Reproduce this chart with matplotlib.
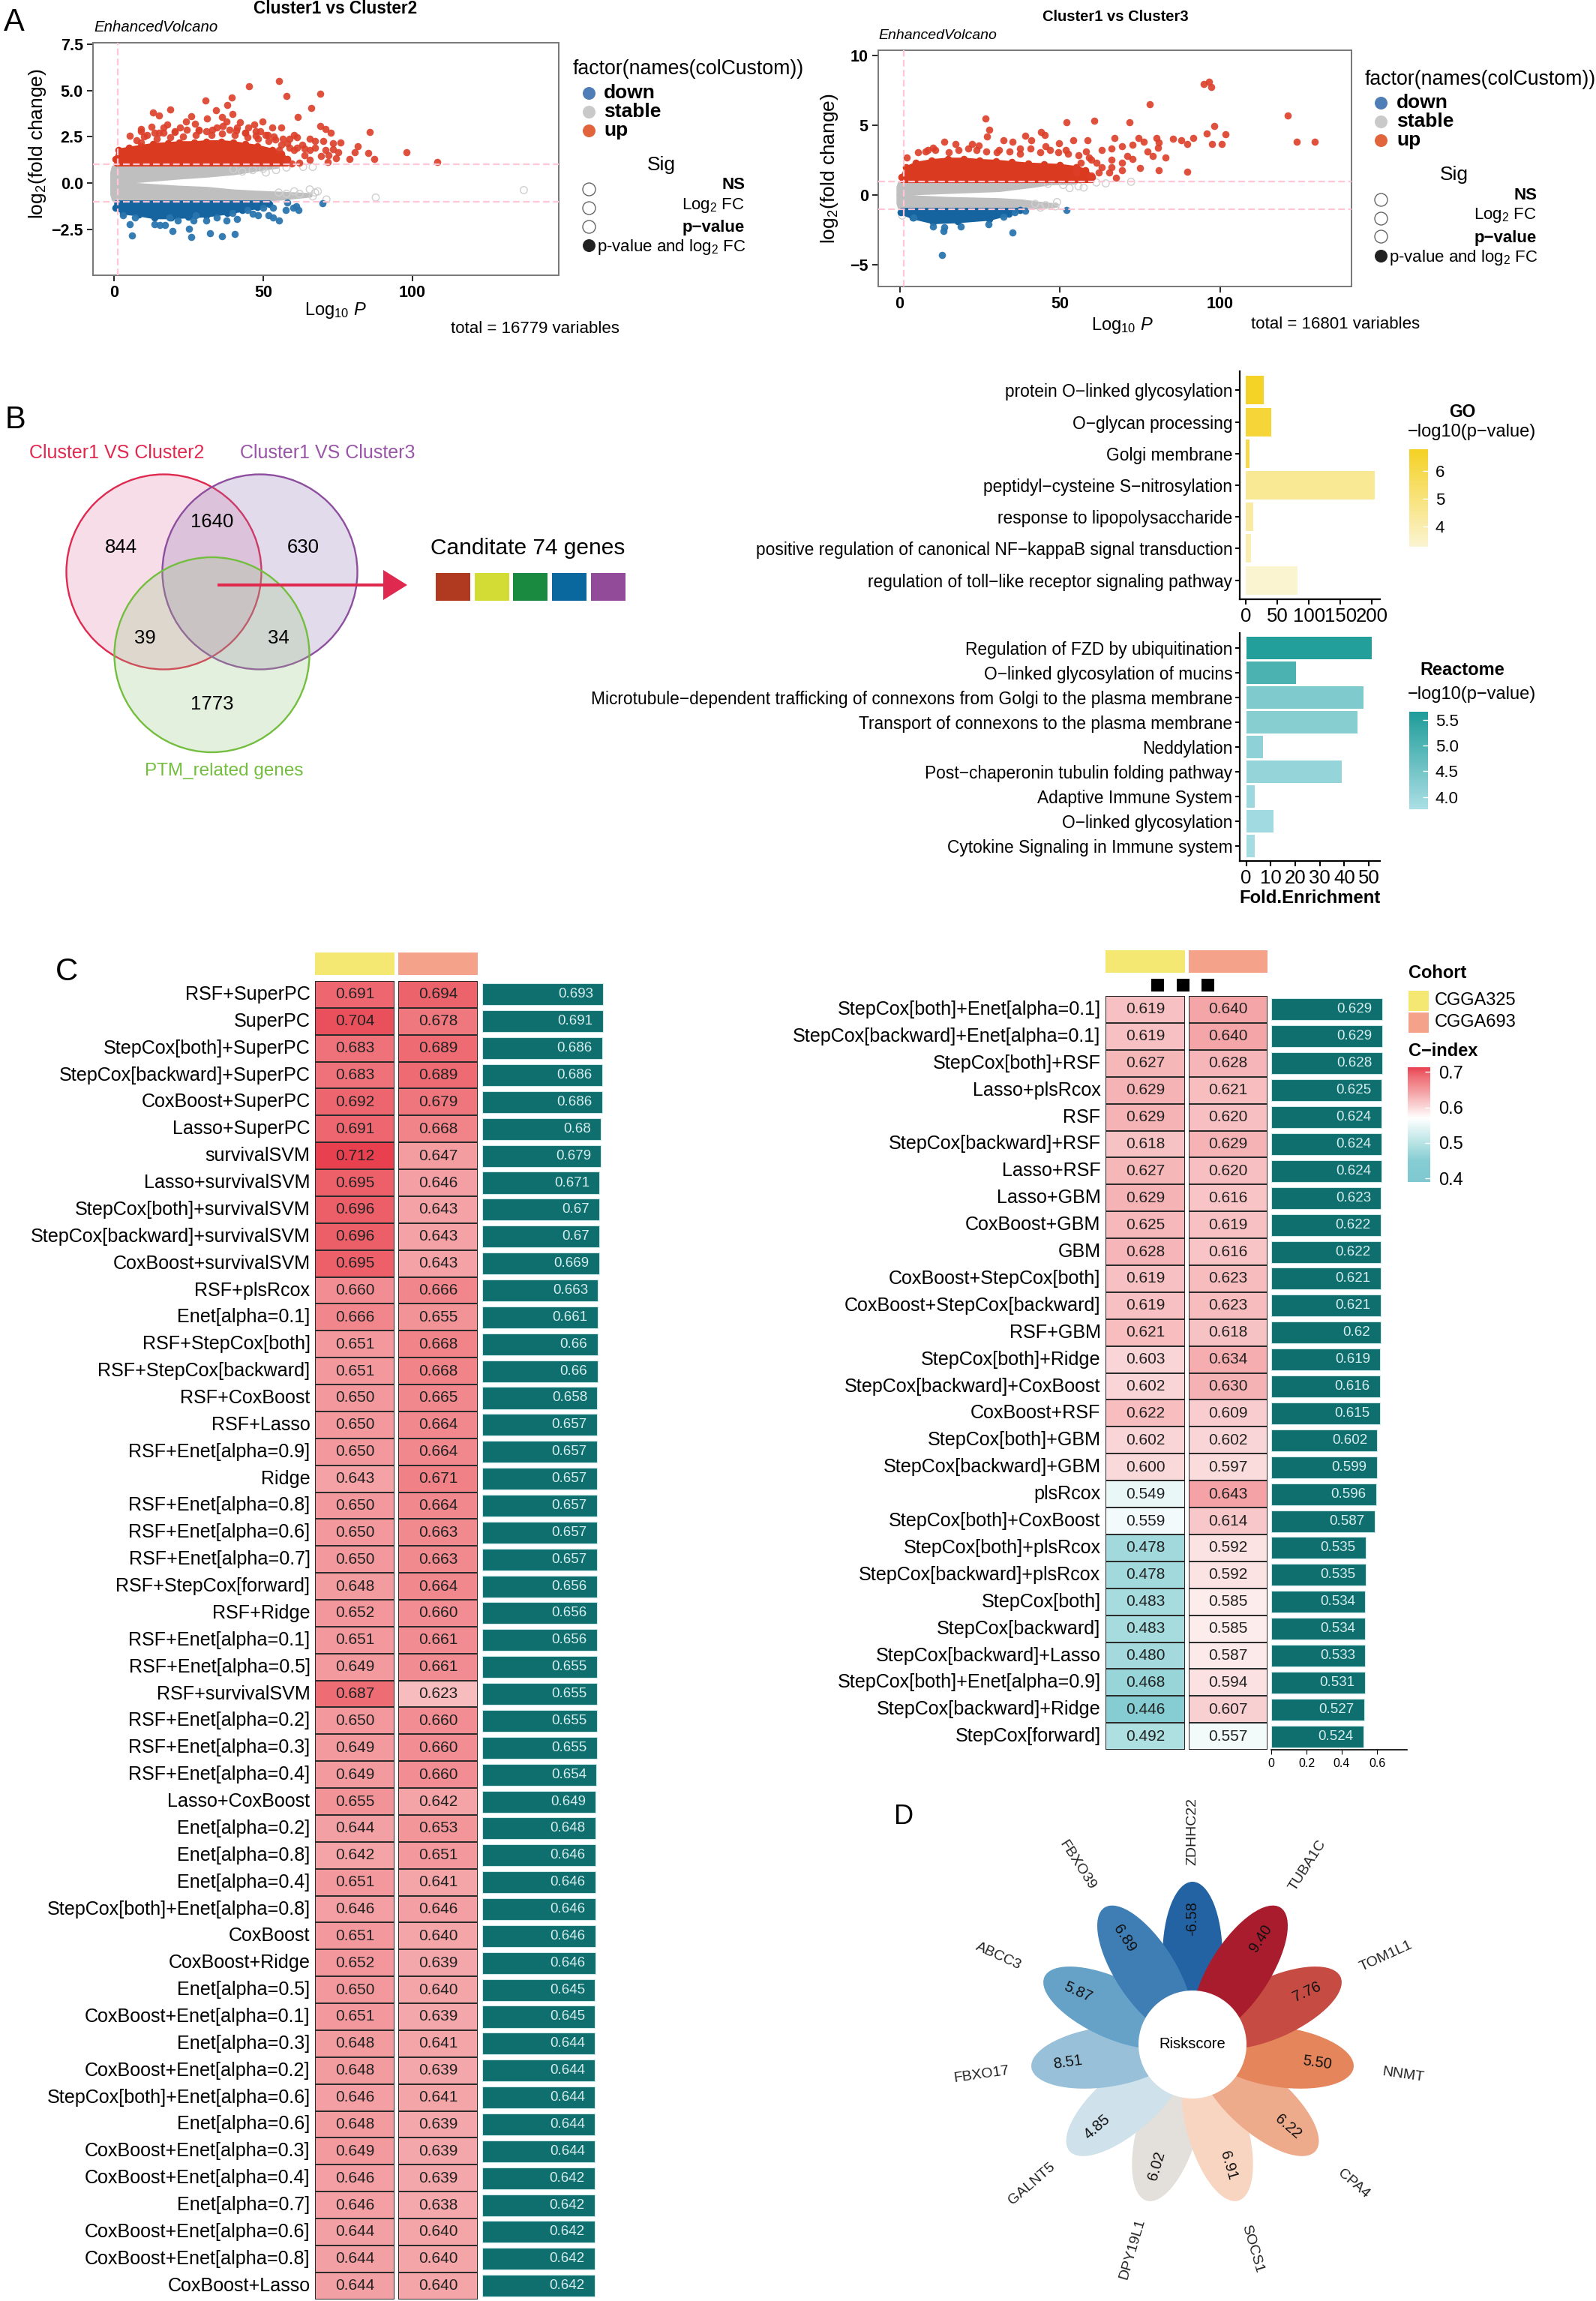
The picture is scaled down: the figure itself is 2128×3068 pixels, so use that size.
import numpy as np
import matplotlib
matplotlib.use('Agg')
import matplotlib.pyplot as plt
from matplotlib.patches import Circle, Ellipse, Rectangle
from matplotlib.colors import LinearSegmentedColormap, Normalize
from matplotlib.cm import ScalarMappable

plt.rcParams['font.family'] = 'Liberation Sans'
plt.rcParams['mathtext.fontset'] = 'custom'
plt.rcParams['mathtext.rm'] = 'Liberation Sans'
plt.rcParams['mathtext.it'] = 'Liberation Sans:italic'
plt.rcParams['mathtext.bf'] = 'Liberation Sans:bold'

W, H = 2128, 3068

# --- panel A, Cluster1 vs Cluster2 ---
a1_up_x = [55.4, 45.3, 57.8, 69.1, 30.6, 39.4, 38.0, 18.8, 13.0, 15.1, 34.2, 39.8, 66.1, 61.5, 26.0, 31.3, 36.1, 24.1, 27.1, 37.8,
           42.2, 49.7, 46.9, 56.1, 69.1, 70.8, 72.6, 85.8, 9.2, 12.7, 17.9, 16.7, 22.2, 36.5, 45.1, 53.1, 49.1, 5.4, 9.2, 60.4,
           61.3, 65.6, 67.4, 70.0, 73.4, 76.0, 81.8, 73.3, 70.8, 67.4, 63.0, 65.6, 60.4, 97.9, 85.2, 80.7, 75.2, 71.9, 69.4, 78.8,
           87.2, 108.3, 74.3, 71.7, 65.6, 62.2, 59.5, 57.8, 63.9, 41.0, 44.0, 47.5, 51.5, 54.0, 58.0, 28.5, 33.0, 20.5, 15.0, 11.0,
           7.5, 10.1, 13.5, 16.7, 20.5, 24.3, 28.3, 30.9, 34.4, 38.7, 41.3, 43.9, 47.4, 50.9, 53.5, 56.6, 58.7, 9.2, 14.4, 18.8,
           23.1, 27.4, 32.6, 36.1, 40.5, 44.8, 48.3, 51.7, 56.1, 58.7, 61.3, 63.9, 55.2]
a1_up_y = [5.53, 5.24, 4.71, 4.82, 4.45, 4.63, 4.21, 3.98, 3.83, 3.63, 3.95, 3.75, 4.06, 3.56, 3.59, 3.50, 3.57, 3.33, 3.21, 3.34,
           3.27, 3.32, 3.18, 3.00, 3.07, 2.91, 2.71, 2.76, 2.94, 3.04, 3.18, 3.00, 3.00, 3.07, 3.00, 3.00, 2.80, 2.56, 2.80, 2.60,
           2.46, 2.38, 2.29, 2.26, 2.17, 2.19, 1.98, 1.81, 1.79, 1.92, 2.06, 1.79, 1.79, 1.68, 1.61, 1.65, 1.65, 1.52, 1.45, 1.30,
           1.29, 1.15, 1.34, 1.14, 1.24, 1.11, 1.04, 1.24, 1.52, 2.85, 2.70, 2.55, 2.60, 2.35, 2.15, 2.85, 2.90, 2.75, 2.70, 2.60,
           2.33, 2.53, 2.73, 2.73, 2.80, 2.87, 2.87, 2.80, 3.00, 2.87, 3.00, 2.73, 2.80, 2.60, 2.53, 2.40, 2.40, 2.19, 2.40, 2.46,
           2.53, 2.60, 2.60, 2.67, 2.60, 2.46, 2.40, 2.26, 2.06, 1.92, 1.92, 1.85, 1.79]
a1_up_env_x = [0.5, 1.5, 5, 9, 13, 18, 22, 27, 31, 36, 40, 44, 48, 53, 56, 58]
a1_up_env_top = [1.3, 1.8, 1.9, 2.0, 2.1, 2.15, 2.2, 2.2, 2.25, 2.25, 2.2, 2.1, 2.0, 1.8, 1.6, 1.3]
a1_down_x = [5.4, 6.1, 13.5, 15.3, 17.0, 19.6, 25.2, 26.0, 32.3, 36.3, 40.5, 55.2, 53.4, 51.7, 61.2, 61.8, 60.0, 69.8, 57.5, 58.0,
             48.3, 46.5, 41.3, 37.8, 34.4, 30.9, 27.4, 26.6, 21.4, 18.7, 7.0, 3.1, 53.4, 50.0, 44.8, 39.6]
a1_down_y = [-2.24, -2.82, -2.21, -2.28, -2.28, -2.59, -2.48, -2.92, -2.72, -2.88, -2.75, -2.01, -1.87, -1.73, -1.27, -1.44, -1.33, -1.10, -1.47, -1.06,
             -1.73, -1.66, -1.94, -2.01, -1.87, -2.01, -1.73, -2.01, -2.01, -1.87, -1.85, -1.73, -1.33, -1.33, -1.46, -1.60]
a1_down_env_x = [0.5, 3, 8.3, 13.5, 19, 25, 31, 38, 43, 48, 52]
a1_down_env_bot = [-1.33, -1.6, -1.7, -1.85, -1.85, -1.8, -1.75, -1.6, -1.45, -1.3, -1.15]
a1_ns_x = [137.3, 87.7, 71.2, 67.4, 65.6, 68.3, 66.6, 60.4, 62.2, 57.8, 55.2, 46.5, 50.0, 54.3, 57.8, 63.4, 66.6, 50.9, 43.0, 40.0]
a1_ns_y = [-0.38, -0.78, -0.88, -0.51, -0.34, -0.45, -0.72, -0.45, -0.58, -0.58, -0.51, 0.70, 0.77, 0.70, 0.84, 0.87, 0.87, 0.57, 0.62, 0.74]
a1_st_x = [-1, -0.5, 1, 8.3, 22, 31, 40, 48, 55]
a1_st_top = [0.6, 0.9, 1, 1, 1, 1, 1, 1, 0.95]
a1_st_mid = [0, 0, 0, 0.09, 0.27, 0.37, 0.50, 0.70, 0.86]
a1_sl_x = [-1, -0.5, 1, 8.3, 22, 31, 40, 48, 57, 66]
a1_sl_mid = [0, 0, 0, -0.04, -0.18, -0.24, -0.38, -0.45, -0.51, -0.58]
a1_sl_bot = [-0.6, -0.9, -1, -1, -1, -1, -1, -0.97, -0.85, -0.70]

# --- panel A, Cluster1 vs Cluster3 ---
a2_up_x = [94.9, 96.5, 97.3, 78.0, 121.0, 26.8, 52.0, 60.6, 71.6, 98.1, 27.9, 44.0, 45.3, 95.9, 101.6, 27.3, 39.1, 123.9, 129.5, 97.4,
           100.5, 89.8, 91.7, 87.9, 85.2, 80.1, 74.5, 67.1, 58.5, 54.2, 49.6, 41.1, 35.1, 32.4, 14.0, 17.5, 22.6, 24.7, 8.0, 10.4,
           2.2, 80.9, 76.2, 72.6, 69.4, 66.2, 77.4, 80.5, 82.9, 78.9, 71.0, 63.0, 58.2, 51.8, 45.5, 37.5, 31.1, 59.8, 66.2, 69.4,
           72.6, 75.0, 80.9, 89.8, 69.4, 66.2, 65.4, 67.5, 59.8, 63.0, 55.0,
           5.6, 8.8, 11.2, 15.2, 18.3, 21.5, 23.9, 27.1, 30.3, 34.3, 37.5, 40.7, 43.9, 47.0, 49.4, 52.6, 55.8, 59.0, 61.4, 56.6, 55.0, 62.2]
a2_up_y = [7.97, 8.15, 7.76, 6.54, 5.70, 5.48, 5.23, 5.34, 5.23, 4.93, 4.68, 4.53, 4.30, 4.41, 4.34, 4.18, 4.27, 3.84, 3.84, 3.66,
           3.66, 3.67, 4.12, 3.94, 4.03, 4.07, 4.10, 4.07, 3.91, 3.94, 3.73, 3.94, 3.80, 3.91, 3.82, 3.67, 3.67, 3.58, 3.14, 3.41,
           2.72, 3.76, 3.82, 3.62, 3.49, 3.32, 3.14, 3.41, 2.72, 2.78, 2.78, 3.23, 3.14, 3.23, 3.49, 3.32, 3.23, 2.51, 2.51, 2.33,
           2.60, 1.94, 1.76, 1.65, 1.79, 2.01, 1.61, 1.22, 1.43, 1.97, 1.61,
           3.05, 3.23, 3.23, 3.05, 3.23, 3.32, 3.23, 3.14, 3.05, 3.14, 2.96, 3.32, 3.05, 3.23, 3.05, 2.96, 2.87, 2.69, 2.33, 2.33, 1.97, 1.61]
a2_up_env_x = [0.5, 2, 5, 10, 15, 20, 25, 30, 35, 40, 45, 50, 55, 58, 60]
a2_up_env_top = [1.3, 2.0, 2.3, 2.5, 2.6, 2.6, 2.5, 2.45, 2.35, 2.25, 2.2, 2.15, 2.0, 1.8, 1.3]
a2_down_x = [13.1, 35.1, 13.6, 14.0, 10.4, 19.1, 27.6, 32.4, 35.9, 39.1, 52.0, 4.3]
a2_down_y = [-4.30, -2.71, -2.60, -2.33, -2.24, -2.24, -2.11, -1.58, -1.25, -1.13, -1.06, -1.61]
a2_down_env_x = [0.3, 4, 10.4, 18, 28, 34, 37.5]
a2_down_env_bot = [-1.25, -1.6, -1.95, -1.88, -1.7, -1.34, -1.08]
a2_ns_x = [72.2, 64.3, 61.4, 57.4, 55.8, 53.0, 51.0, 46.3, 49.1, 48.6, 45.5, 42.3, 43.9, 0.8]
a2_ns_y = [0.95, 0.84, 0.90, 0.54, 0.63, 0.50, 0.72, 0.81, -0.50, -0.81, -0.72, -0.63, -0.90, -1.47]
a2_st_x = [-0.8, -0.4, 1, 5.6, 15, 31, 42, 47, 55]
a2_st_top = [0.6, 0.9, 1, 1, 1, 1, 1, 0.97, 0.85]
a2_st_mid = [0, 0, 0, 0.1, 0.18, 0.32, 0.63, 0.81, 0.85]
a2_sl_x = [-0.8, -0.4, 1, 5.6, 15, 31, 38, 44, 49]
a2_sl_mid = [0, 0, 0, -0.08, -0.18, -0.27, -0.36, -0.54, -0.65]
a2_sl_bot = [-0.6, -0.9, -1, -1, -1, -1, -0.97, -0.9, -0.8]

# --- panel B ---
venn_counts = ['844', '1640', '630', '39', '34', '1773']
candidate_colors = ['#B03A20', '#D2DC34', '#198A40', '#0B689E', '#914B98']

go_terms = ['protein O\u2212linked glycosylation', 'O\u2212glycan processing', 'Golgi membrane',
            'peptidyl\u2212cysteine S\u2212nitrosylation', 'response to lipopolysaccharide',
            'positive regulation of canonical NF\u2212kappaB signal transduction',
            'regulation of toll\u2212like receptor signaling pathway']
go_enrich = [27.7, 40, 5, 205, 11, 8, 82]
go_logp = [6.7, 6.35, 5.95, 4.5, 4.2, 3.9, 3.3]

re_terms = ['Regulation of FZD by ubiquitination', 'O\u2212linked glycosylation of mucins',
            'Microtubule\u2212dependent trafficking of connexons from Golgi to the plasma membrane',
            'Transport of connexons to the plasma membrane', 'Neddylation',
            'Post\u2212chaperonin tubulin folding pathway', 'Adaptive Immune System',
            'O\u2212linked glycosylation', 'Cytokine Signaling in Immune system']
re_enrich = [51.3, 20.3, 48, 45.4, 7, 39, 3.6, 11.3, 3.4]
re_logp = [5.6, 5.05, 4.35, 4.25, 4.15, 4.05, 3.95, 3.9, 3.85]

# --- panel C ---
left_models = ['RSF+SuperPC', 'SuperPC', 'StepCox[both]+SuperPC', 'StepCox[backward]+SuperPC', 'CoxBoost+SuperPC', 'Lasso+SuperPC',
               'survivalSVM', 'Lasso+survivalSVM', 'StepCox[both]+survivalSVM', 'StepCox[backward]+survivalSVM', 'CoxBoost+survivalSVM',
               'RSF+plsRcox', 'Enet[alpha=0.1]', 'RSF+StepCox[both]', 'RSF+StepCox[backward]', 'RSF+CoxBoost', 'RSF+Lasso',
               'RSF+Enet[alpha=0.9]', 'Ridge', 'RSF+Enet[alpha=0.8]', 'RSF+Enet[alpha=0.6]', 'RSF+Enet[alpha=0.7]', 'RSF+StepCox[forward]',
               'RSF+Ridge', 'RSF+Enet[alpha=0.1]', 'RSF+Enet[alpha=0.5]', 'RSF+survivalSVM', 'RSF+Enet[alpha=0.2]', 'RSF+Enet[alpha=0.3]',
               'RSF+Enet[alpha=0.4]', 'Lasso+CoxBoost', 'Enet[alpha=0.2]', 'Enet[alpha=0.8]', 'Enet[alpha=0.4]',
               'StepCox[both]+Enet[alpha=0.8]', 'CoxBoost', 'CoxBoost+Ridge', 'Enet[alpha=0.5]', 'CoxBoost+Enet[alpha=0.1]',
               'Enet[alpha=0.3]', 'CoxBoost+Enet[alpha=0.2]', 'StepCox[both]+Enet[alpha=0.6]', 'Enet[alpha=0.6]',
               'CoxBoost+Enet[alpha=0.3]', 'CoxBoost+Enet[alpha=0.4]', 'Enet[alpha=0.7]', 'CoxBoost+Enet[alpha=0.6]',
               'CoxBoost+Enet[alpha=0.8]', 'CoxBoost+Lasso']
left_cgga325 = [0.691, 0.704, 0.683, 0.683, 0.692, 0.691, 0.712, 0.695, 0.696, 0.696, 0.695, 0.660, 0.666, 0.651, 0.651, 0.650, 0.650,
                0.650, 0.643, 0.650, 0.650, 0.650, 0.648, 0.652, 0.651, 0.649, 0.687, 0.650, 0.649, 0.649, 0.655, 0.644, 0.642, 0.651,
                0.646, 0.651, 0.652, 0.650, 0.651, 0.648, 0.648, 0.646, 0.648, 0.649, 0.646, 0.646, 0.644, 0.644, 0.644]
left_cgga693 = [0.694, 0.678, 0.689, 0.689, 0.679, 0.668, 0.647, 0.646, 0.643, 0.643, 0.643, 0.666, 0.655, 0.668, 0.668, 0.665, 0.664,
                0.664, 0.671, 0.664, 0.663, 0.663, 0.664, 0.660, 0.661, 0.661, 0.623, 0.660, 0.660, 0.660, 0.642, 0.653, 0.651, 0.641,
                0.646, 0.640, 0.639, 0.640, 0.639, 0.641, 0.639, 0.641, 0.639, 0.639, 0.639, 0.638, 0.640, 0.640, 0.640]
left_mean = [0.693, 0.691, 0.686, 0.686, 0.686, 0.68, 0.679, 0.671, 0.67, 0.67, 0.669, 0.663, 0.661, 0.66, 0.66, 0.658, 0.657,
             0.657, 0.657, 0.657, 0.657, 0.657, 0.656, 0.656, 0.656, 0.655, 0.655, 0.655, 0.655, 0.654, 0.649, 0.648, 0.646, 0.646,
             0.646, 0.646, 0.646, 0.645, 0.645, 0.644, 0.644, 0.644, 0.644, 0.644, 0.642, 0.642, 0.642, 0.642, 0.642]

right_models = ['StepCox[both]+Enet[alpha=0.1]', 'StepCox[backward]+Enet[alpha=0.1]', 'StepCox[both]+RSF', 'Lasso+plsRcox', 'RSF',
                'StepCox[backward]+RSF', 'Lasso+RSF', 'Lasso+GBM', 'CoxBoost+GBM', 'GBM', 'CoxBoost+StepCox[both]',
                'CoxBoost+StepCox[backward]', 'RSF+GBM', 'StepCox[both]+Ridge', 'StepCox[backward]+CoxBoost', 'CoxBoost+RSF',
                'StepCox[both]+GBM', 'StepCox[backward]+GBM', 'plsRcox', 'StepCox[both]+CoxBoost', 'StepCox[both]+plsRcox',
                'StepCox[backward]+plsRcox', 'StepCox[both]', 'StepCox[backward]', 'StepCox[backward]+Lasso',
                'StepCox[both]+Enet[alpha=0.9]', 'StepCox[backward]+Ridge', 'StepCox[forward]']
right_cgga325 = [0.619, 0.619, 0.627, 0.629, 0.629, 0.618, 0.627, 0.629, 0.625, 0.628, 0.619, 0.619, 0.621, 0.603, 0.602, 0.622,
                 0.602, 0.600, 0.549, 0.559, 0.478, 0.478, 0.483, 0.483, 0.480, 0.468, 0.446, 0.492]
right_cgga693 = [0.640, 0.640, 0.628, 0.621, 0.620, 0.629, 0.620, 0.616, 0.619, 0.616, 0.623, 0.623, 0.618, 0.634, 0.630, 0.609,
                 0.602, 0.597, 0.643, 0.614, 0.592, 0.592, 0.585, 0.585, 0.587, 0.594, 0.607, 0.557]
right_mean = [0.629, 0.629, 0.628, 0.625, 0.624, 0.624, 0.624, 0.623, 0.622, 0.622, 0.621, 0.621, 0.62, 0.619, 0.616, 0.615,
              0.602, 0.599, 0.596, 0.587, 0.535, 0.535, 0.534, 0.534, 0.533, 0.531, 0.527, 0.524]

# --- panel D, clockwise from the top ---
petal_genes = ['ZDHHC22', 'TUBA1C', 'TOM1L1', 'NNMT', 'CPA4', 'SOCS1', 'DPY19L1', 'GALNT5', 'FBXO17', 'ABCC3', 'FBXO39']
petal_values = ['-6.58', '9.40', '7.76', '5.50', '6.22', '6.91', '6.02', '4.85', '8.51', '5.87', '6.89']
petal_colors = ['#2363A4', '#A81C2D', '#C54B43', '#E5855B', '#EEAB8C', '#F8D5C1', '#E3DFDA', '#CFE1EB', '#98C0D9', '#66A1C8', '#3F7EB5']
petal_order = [6, 5, 7, 4, 8, 3, 9, 2, 0, 10, 1]  # bottom to top


def ax_px(left, top, right, bottom, **kw):
    return fig.add_axes([left / W, 1 - bottom / H, (right - left) / W, (bottom - top) / H], **kw)


def txt(x, y, s, size=17, ha='left', va='center', **kw):
    return over.text(x, y, s, fontsize=size, ha=ha, va=va, **kw)


def volcano(box, xlim, ylim, yticks, ytick_labels, up, down, ns, up_env, down_env, st_up, st_low):
    ax = ax_px(*box)
    ax.fill_between(st_up[0], st_up[2], st_up[1], color='#BFBFBF', lw=2, zorder=1)
    ax.fill_between(st_low[0], st_low[2], st_low[1], color='#BFBFBF', lw=2, zorder=1)
    ax.scatter(ns[0], ns[1], s=46, facecolor='none', edgecolor='#CFCFCF', lw=1, zorder=2)
    ax.fill_between(up_env[0], 1.0, up_env[1], color='#DA3A1F', lw=3, zorder=3)
    ax.scatter(up_env[0], up_env[1], s=48, color='#DA3A1F', lw=0, zorder=3)
    ax.scatter(up[0], up[1], s=48, color='#DC3E28', alpha=0.9, lw=0, zorder=3)
    ax.fill_between(down_env[0], -1.0, down_env[1], color='#15639F', lw=3, zorder=3)
    ax.scatter(down_env[0], down_env[1], s=48, color='#15639F', lw=0, zorder=3)
    ax.scatter(down[0], down[1], s=48, color='#2A75AE', alpha=0.95, lw=0, zorder=3)
    for v in (-1, 1):
        ax.axhline(v, color='#FFC6D6', ls=(0, (4, 2)), lw=1.6, zorder=4)
    ax.axvline(1.3, color='#FFC6D6', ls=(0, (4, 2)), lw=1.6, zorder=4)
    ax.set_xlim(xlim)
    ax.set_ylim(ylim)
    ax.set_xticks([0, 50, 100])
    ax.set_yticks(yticks)
    ax.set_yticklabels(ytick_labels)
    ax.tick_params(labelsize=15.5, width=1.2, length=6, labelcolor='black')
    for lab in ax.get_xticklabels() + ax.get_yticklabels():
        lab.set_fontweight('bold')
    for sp in ax.spines.values():
        sp.set_color('#777777')
        sp.set_linewidth(1.4)
    return ax


def volcano_legend(x_mark, x_text, x_right, x_title, y_down, x_sig, y_sig, y_ns, y_fc, y_pv, y_both, y_circles, y_title):
    txt(x_title, y_title, 'factor(names(colCustom))', size=19.2)
    for name, col, dy in zip(['down', 'stable', 'up'], ['#4F7DB5', '#C9C9C9', '#E2643C'], [0, 25, 50]):
        over.scatter([x_mark], [y_down + dy], s=150, color=col, lw=0)
        txt(x_text, y_down + dy, name, size=19, weight='bold')
    txt(x_sig, y_sig, 'Sig', size=19, ha='center')
    txt(x_right, y_ns, 'NS', size=16, ha='right', weight='bold')
    txt(x_right, y_fc, 'Log$_{2}$ FC', size=16, ha='right')
    txt(x_right, y_pv, 'p\u2212value', size=16, ha='right', weight='bold')
    txt(x_right + 2, y_both, 'p-value and log$_{2}$ FC', size=16, ha='right')
    for yc in y_circles[:3]:
        over.scatter([x_mark], [yc], s=150, facecolor='white', edgecolor='#666666', lw=1)
    over.scatter([x_mark], [y_circles[3]], s=150, color='#222222', lw=0)


def enrich_panel(box, terms, enrich, logp, cmap, norm, xlim, xticks, cbar_box, cbar_ticks, cbar_fmt):
    ax = ax_px(*box)
    y = np.arange(len(terms))
    ax.barh(y, enrich, height=0.9, color=cmap(norm(logp)))
    ax.set_yticks(y)
    ax.set_yticklabels(terms)
    ax.set_ylim(len(terms) - 0.4, -0.6)
    ax.set_xlim(xlim)
    ax.set_xticks(xticks)
    ax.tick_params(axis='y', labelsize=16.4, length=4, width=1.5, pad=3)
    ax.tick_params(axis='x', labelsize=18.5, length=5, width=1.5, pad=3)
    ax.spines[['top', 'right']].set_visible(False)
    ax.spines[['left', 'bottom']].set_linewidth(1.6)
    cax = ax_px(*cbar_box)
    cb = fig.colorbar(ScalarMappable(norm=norm, cmap=cmap), cax=cax)
    cb.outline.set_visible(False)
    cb.set_ticks(cbar_ticks)
    cb.set_ticklabels([cbar_fmt % t for t in cbar_ticks])
    cax.tick_params(labelsize=16, length=5, width=1, color='white', direction='in', pad=7)
    return ax


def heat_block(x_heat, top, pitch, x_bar, models, col1, col2, means, bar_scale, xmax):
    n = len(models)
    bottom = top + pitch * n
    for (l, r), vals in zip(x_heat, (col1, col2)):
        ax = ax_px(l, top, r, bottom)
        ax.pcolormesh(np.array(vals).reshape(-1, 1), cmap=cidx_cmap, norm=cidx_norm,
                      edgecolors='#2B2B2B', linewidth=1.4)
        ax.set_xlim(0, 1)
        ax.set_ylim(n, 0)
        ax.axis('off')
        for i, v in enumerate(vals):
            ax.text(0.5, i + 0.5, '%.3f' % v, ha='center', va='center', fontsize=15, color='#222222')
    bax = ax_px(x_bar, top, x_bar + xmax * bar_scale, bottom)
    ys = np.arange(n) + 0.5
    bax.barh(ys, means, height=0.81, color='#0F6E6E', edgecolor='#CDE8E8', linewidth=0.8)
    bax.set_xlim(0, xmax)
    bax.set_ylim(n, 0)
    for yy, v in zip(ys, means):
        bax.text(v - 0.057, yy, '%g' % v, ha='right', va='center', fontsize=13.5, color='#D8EEEE')
    bax.set_yticks([])
    bax.spines[['top', 'right', 'left']].set_visible(False)
    for i, m in enumerate(models):
        txt(x_heat[0][0] - 6.5, top + pitch * (i + 0.5), m, size=18.1, ha='right')
    return bax


fig = plt.figure(figsize=(W / 100, H / 100), dpi=100, facecolor='white')
over = fig.add_axes([0, 0, 1, 1], zorder=10)
over.set_xlim(0, W)
over.set_ylim(H, 0)
over.axis('off')
over.patch.set_alpha(0)

# A
volcano((124, 57, 745, 367), (-7, 149), (-4.98, 7.58), [-2.5, 0, 2.5, 5, 7.5],
        ['\u22122.5', '0.0', '2.5', '5.0', '7.5'], (a1_up_x, a1_up_y), (a1_down_x, a1_down_y), (a1_ns_x, a1_ns_y),
        (a1_up_env_x, a1_up_env_top), (a1_down_env_x, a1_down_env_bot),
        (a1_st_x, a1_st_top, a1_st_mid), (a1_sl_x, a1_sl_mid, a1_sl_bot))
volcano((1171, 67, 1802, 382), (-6.7, 141), (-6.56, 10.39), [-5, 0, 5, 10],
        ['\u22125', '0', '5', '10'], (a2_up_x, a2_up_y), (a2_down_x, a2_down_y), (a2_ns_x, a2_ns_y),
        (a2_up_env_x, a2_up_env_top), (a2_down_env_x, a2_down_env_bot),
        (a2_st_x, a2_st_top, a2_st_mid), (a2_sl_x, a2_sl_mid, a2_sl_bot))
txt(5, 30, 'A', size=30)
txt(447, 12, 'Cluster1 vs Cluster2', size=16.3, ha='center', weight='bold')
txt(125, 37, 'EnhancedVolcano', size=14.7, style='italic')
txt(50, 192, 'log$_{2}$(fold change)', size=19, ha='center', rotation=90)
txt(447, 414, 'Log$_{10}$ $\\mathit{P}$', size=17, ha='center')
txt(601, 438, 'total = 16779 variables', size=16)
volcano_legend(785, 805, 993, 764, 124, 882, 220, 247, 274, 304, 330, [252, 277, 302, 327], 92)

txt(1487, 22, 'Cluster1 vs Cluster3', size=14.5, ha='center', weight='bold')
txt(1171, 48, 'EnhancedVolcano', size=14, style='italic')
txt(1106, 225, 'log$_{2}$(fold change)', size=19, ha='center', rotation=90)
txt(1496, 434, 'Log$_{10}$ $\\mathit{P}$', size=17, ha='center')
txt(1668, 432, 'total = 16801 variables', size=16)
volcano_legend(1841, 1862, 2049, 1820, 137, 1939, 233, 261, 287, 318, 343, [266, 291, 315, 341], 106)

# B venn
txt(7, 560, 'B', size=30)
for c, fill, edge in zip([(218.5, 762.5), (346.5, 762.5), (282.5, 873)],
                         ['#DF7BA7', '#8F73B3', '#97C77F'], ['#E0294F', '#8E4E9F', '#74BE3F']):
    over.add_patch(Circle(c, 130, facecolor=fill, alpha=0.25, lw=0))
    over.add_patch(Circle(c, 130, facecolor='none', edgecolor=edge, lw=1.7))
for s, xy in zip(venn_counts, [(161, 730), (283, 696), (404, 730), (193, 851), (371, 851), (283, 939)]):
    txt(xy[0], xy[1], s, size=18.5, ha='center')
txt(39, 604, 'Cluster1 VS Cluster2', size=18, color='#E0294F')
txt(320, 604, 'Cluster1 VS Cluster3', size=18, color='#9A55A8')
txt(299, 1028, 'PTM_related genes', size=17.5, ha='center', color='#74BE3F')
over.arrow(290, 780, 253, 0, width=4, head_width=40, head_length=32, length_includes_head=True,
           color='#E0294F', lw=0)
txt(574, 731, 'Canditate 74 genes', size=21.5)
for x0, col in zip([581, 633, 684, 736, 788], candidate_colors):
    over.add_patch(Rectangle((x0, 764), 46, 37, facecolor=col, edgecolor='none'))

# B enrichment bars
go_cmap = LinearSegmentedColormap.from_list('go', ['#FBF4D2', '#F4D123'])
go_norm = Normalize(3.26, 6.78)
re_cmap = LinearSegmentedColormap.from_list('re', ['#ABDFE5', '#1E9C99'])
re_norm = Normalize(3.76, 5.66)
enrich_panel((1653, 495, 1840, 799), go_terms, go_enrich, go_logp, go_cmap, go_norm, (-10, 213),
             [0, 50, 100, 150, 200], (1879, 599, 1904, 729), [4, 5, 6], '%d')
enrich_panel((1653, 844, 1840, 1148), re_terms, re_enrich, re_logp, re_cmap, re_norm, (-2.6, 54.6),
             [0, 10, 20, 30, 40, 50], (1879, 949, 1904, 1079), [4.0, 4.5, 5.0, 5.5], '%.1f')
txt(1950, 550, 'GO', size=16.5, ha='center', weight='bold')
txt(1962, 576, '\u2212log10(p\u2212value)', size=17, ha='center')
txt(1950, 893, 'Reactome', size=17, ha='center', weight='bold')
txt(1962, 926, '\u2212log10(p\u2212value)', size=17, ha='center')
txt(1747, 1198, 'Fold.Enrichment', size=17.2, ha='center', weight='bold')

# C
cidx_lo, cidx_hi = 0.39, 0.713
cidx_stops = [(0.39, '#80C8D0'), (0.45, '#85CDD3'), (0.49, '#AEDFE0'), (0.57, '#FFFFFF'),
              (0.64, '#F4A6A9'), (0.69, '#EE6A72'), (0.713, '#E8404F')]
cidx_cmap = LinearSegmentedColormap.from_list(
    'cidx', [((v - cidx_lo) / (cidx_hi - cidx_lo), c) for v, c in cidx_stops])
cidx_norm = Normalize(cidx_lo, cidx_hi)

lax = heat_block([(420, 526), (531, 637)], 1308, 35.87, 643, left_models,
                 left_cgga325, left_cgga693, left_mean, 233, 0.72)
lax.spines['bottom'].set_visible(False)
lax.set_xticks([])
rax = heat_block([(1474, 1580), (1585, 1690)], 1328, 35.9, 1695, right_models,
                 right_cgga325, right_cgga693, right_mean, 235, 0.77)
rax.set_xticks([0, 0.2, 0.4, 0.6])
rax.set_xticklabels(['0', '0.2', '0.4', '0.6'])
rax.tick_params(axis='x', labelsize=11.5, length=4, pad=4)
rax.spines['bottom'].set_linewidth(1.2)

txt(74, 1296, 'C', size=30)
for x0, x1, col in [(420, 526, '#F4E872'), (531, 637, '#F4A28A'), (1474, 1580, '#F4E872'), (1585, 1690, '#F4A28A')]:
    y0 = 1270 if x0 < 1000 else 1267
    over.add_patch(Rectangle((x0, y0), x1 - x0, 30, facecolor=col, edgecolor='none'))
for x0 in [1535, 1569, 1602]:
    over.add_patch(Rectangle((x0, 1305), 17, 17, facecolor='black', edgecolor='none'))
txt(1878, 1297, 'Cohort', size=17, weight='bold')
over.add_patch(Rectangle((1878, 1321), 27, 27, facecolor='#F4E872', edgecolor='none'))
over.add_patch(Rectangle((1878, 1349.5), 27, 27, facecolor='#F4A28A', edgecolor='none'))
txt(1913, 1334, 'CGGA325', size=17)
txt(1913, 1363, 'CGGA693', size=17)
txt(1878, 1402, 'C\u2212index', size=17, weight='bold')
cax = ax_px(1877, 1423, 1907, 1576)
cb = fig.colorbar(ScalarMappable(norm=cidx_norm, cmap=cidx_cmap), cax=cax)
cb.outline.set_visible(False)
cb.set_ticks([0.4, 0.5, 0.6, 0.7])
cax.tick_params(labelsize=17, length=5, width=1, color='white', direction='in', pad=8)

# D
txt(1192, 2423, 'D', size=26)
fax = ax_px(1590 - 380, 2726 - 345, 1590 + 380, 2726 + 345)
fax.set_xlim(-380, 380)
fax.set_ylim(-345, 345)
fax.axis('off')
angles = 90 - np.arange(len(petal_genes)) * 360 / len(petal_genes)
for i in petal_order:
    a = np.deg2rad(angles[i])
    fax.add_patch(Ellipse((118 * np.cos(a), 118 * np.sin(a)), 198, 80, angle=angles[i], color=petal_colors[i], lw=0))
fax.add_patch(Circle((0, 0), 72, facecolor='white', edgecolor='none', zorder=5))
fax.text(0, 0, 'Riskscore', fontsize=14.5, ha='center', va='center', zorder=6)
for i, ang in enumerate(angles):
    a = np.deg2rad(ang)
    rot = ang if np.cos(a) >= 0 else ang + 180
    if i == 0:
        rot = 90
    fax.text(168 * np.cos(a), 168 * np.sin(a), petal_values[i], fontsize=14.5, rotation=rot,
             ha='center', va='center', rotation_mode='anchor', color='#111111', zorder=6)
    fax.text(284 * np.cos(a), 284 * np.sin(a), petal_genes[i], fontsize=14, rotation=rot,
             ha='center', va='center', rotation_mode='anchor', color='#222222', zorder=6)

fig.savefig('out.png', dpi=100)
